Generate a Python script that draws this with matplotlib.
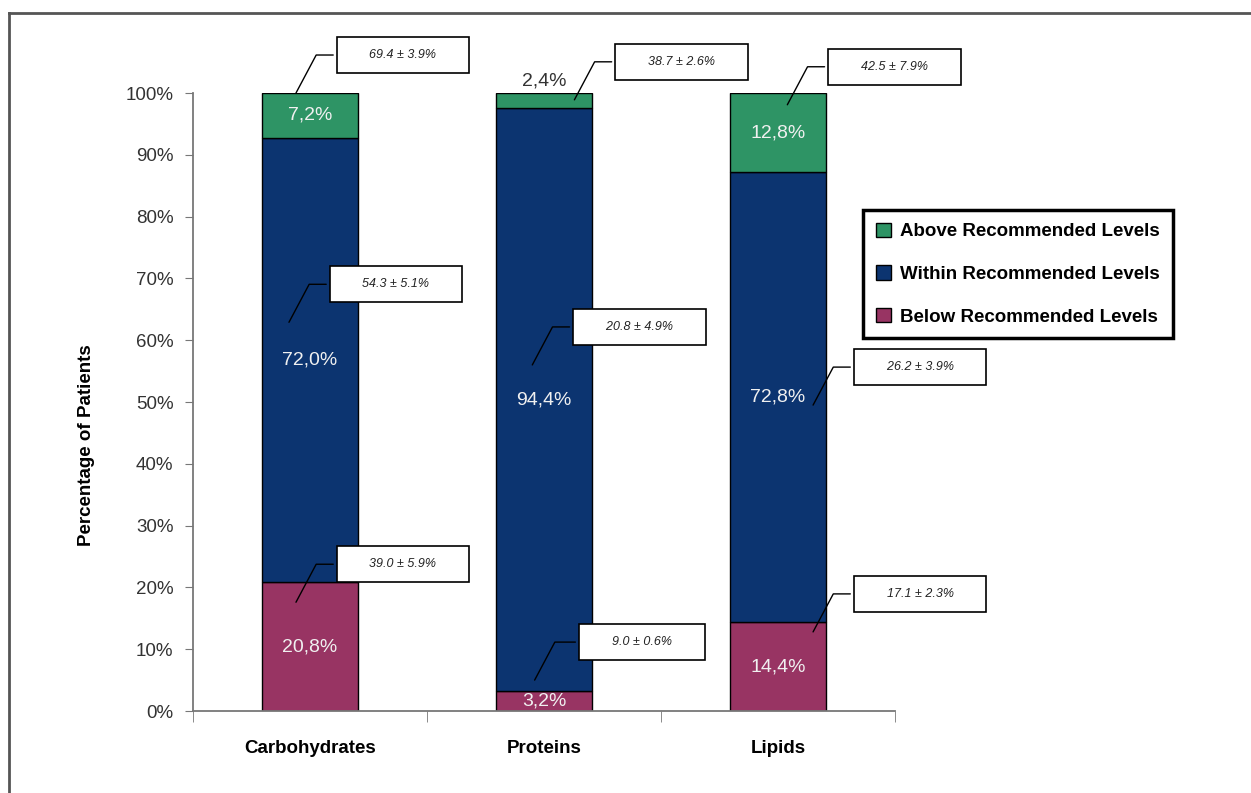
import numpy as np
import matplotlib.pyplot as plt
from matplotlib.lines import Line2D

plt.rcParams['font.family'] = ['Liberation Sans', 'DejaVu Sans']

# datos
categorias = ['Carbohydrates', 'Proteins', 'Lipids']
below = [20.8, 3.2, 14.4]
within = [72.0, 94.4, 72.8]
above = [7.2, 2.4, 12.8]
below_txt = ['39.0 ± 5.9%', '9.0 ± 0.6%', '17.1 ± 2.3%']
within_txt = ['54.3 ± 5.1%', '20.8 ± 4.9%', '26.2 ± 3.9%']
above_txt = ['69.4 ± 3.9%', '38.7 ± 2.6%', '42.5 ± 7.9%']

c_above = '#2e9465'
c_within = '#0c3470'
c_below = '#983463'

fig = plt.figure(figsize=(12.51, 7.93), dpi=100)
ax = fig.add_axes([0.1543, 0.1034, 0.5611, 0.7793])

x = np.arange(len(categorias))
w = 0.41
b1 = ax.bar(x, below, w, color=c_below, edgecolor='black', linewidth=1,
            label='Below Recommended Levels')
b2 = ax.bar(x, within, w, bottom=below, color=c_within, edgecolor='black',
            linewidth=1, label='Within Recommended Levels')
bot3 = np.array(below) + np.array(within)
b3 = ax.bar(x, above, w, bottom=bot3, color=c_above, edgecolor='black',
            linewidth=1, label='Above Recommended Levels')

def fmt(v):
    return f'{v:.1f}%'.replace('.', ',')

# etiquetas dentro de las barras
for i in range(len(categorias)):
    ax.text(x[i], below[i] / 2, fmt(below[i]), ha='center', va='center',
            color='#f0f0f0', fontsize=14)
    ax.text(x[i], below[i] + within[i] / 2, fmt(within[i]), ha='center',
            va='center', color='#f0f0f0', fontsize=14)
    if above[i] > 4:
        ax.text(x[i], bot3[i] + above[i] / 2, fmt(above[i]), ha='center',
                va='center', color='#f0f0f0', fontsize=14)
    else:
        ax.text(x[i], bot3[i] + above[i] + 0.6, fmt(above[i]), ha='center',
                va='bottom', color='#333333', fontsize=14)

# cuadros de anotacion (media ± DE)
anchors = [
    (above_txt, [(-0.06, 100.0), (0.13, 98.9), (0.04, 98.1)]),
    (within_txt, [(-0.09, 62.9), (-0.05, 56.0), (0.15, 49.5)]),
    (below_txt, [(-0.06, 17.6), (-0.04, 5.0), (0.15, 12.8)]),
]
for textos, pts in anchors:
    for i, (dx, yy) in enumerate(pts):
        ax.annotate(' ' * 6 + textos[i] + ' ' * 6, xy=(x[i] + dx, yy),
                    xytext=(107, 38), textcoords='offset pixels',
                    ha='center', va='center', fontsize=9, style='italic',
                    color='#222222', annotation_clip=False,
                    bbox=dict(boxstyle='square,pad=0.95', fc='white',
                              ec='black', lw=1.2),
                    arrowprops=dict(arrowstyle='-', color='black', lw=1,
                                    shrinkB=0,
                                    connectionstyle='angle,angleA=0,angleB=62,rad=0'))

ax.set_xlim(-0.5, 2.5)
ax.set_ylim(0, 100)
ax.set_yticks(np.arange(0, 101, 10))
ax.set_yticklabels([f'{v}%' for v in range(0, 101, 10)], fontsize=13.5,
                   color='#333333')
ax.set_xticks(x)
ax.set_xticklabels(categorias, fontsize=13.5, fontweight='bold')
ax.set_xticks(np.arange(-0.5, 2.6, 1), minor=True)
ax.tick_params(axis='x', which='major', length=0, pad=21)
ax.tick_params(axis='x', which='minor', length=8, direction='out',
               color='#777777')
ax.tick_params(axis='y', length=6, direction='out', color='#777777', pad=8)
for s in ['top', 'right']:
    ax.spines[s].set_visible(False)
for s in ['left', 'bottom']:
    ax.spines[s].set_color('#777777')
    ax.spines[s].set_linewidth(1.3)
ax.set_ylabel('Percentage of Patients', fontsize=13.5, fontweight='bold')
ax.yaxis.set_label_coords(-0.1396, 0.43)

leg = ax.legend(handles=[b3, b2, b1], loc='upper left',
                bbox_to_anchor=(863 / 1251, 1 - 210 / 793),
                bbox_transform=fig.transFigure, fancybox=False,
                edgecolor='black', framealpha=1, handlelength=0.8,
                handleheight=0.8, handletextpad=0.5, labelspacing=1.33,
                borderpad=0.68, borderaxespad=0,
                prop={'size': 13.5, 'weight': 'bold'})
leg.get_frame().set_linewidth(2.5)

# marco exterior
fig.add_artist(Line2D([9 / 1251, 1], [1 - 13 / 793, 1 - 13 / 793],
                      transform=fig.transFigure, color='#555555', lw=2))
fig.add_artist(Line2D([9 / 1251, 9 / 1251], [0, 1 - 13 / 793],
                      transform=fig.transFigure, color='#555555', lw=2))

plt.savefig('out.png', dpi=100)
